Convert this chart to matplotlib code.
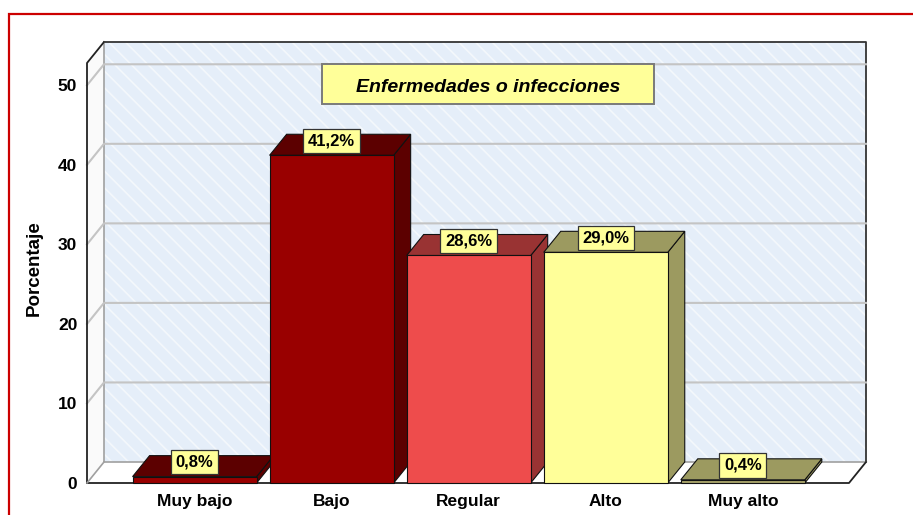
import matplotlib.pyplot as plt
from matplotlib.patches import Polygon, Rectangle

# data
categorias = ['Muy bajo', 'Bajo', 'Regular', 'Alto', 'Muy alto']
porcentajes = [0.8, 41.2, 28.6, 29.0, 0.4]
etiquetas = ['0,8%', '41,2%', '28,6%', '29,0%', '0,4%']
titulo = 'Enfermedades o infecciones'
y_ticks = [0, 10, 20, 30, 40, 50]

# colours of each bar: front, top/side
col_frente = ['#990000', '#990000', '#ee4c4c', '#ffff99', '#a8a46a']
col_lado = ['#5c0000', '#5c0000', '#993333', '#9c9a60', '#9c9a60']

plt.rcParams['font.family'] = ['Liberation Sans', 'DejaVu Sans']
plt.rcParams['hatch.linewidth'] = 1.2

W, H = 913, 515
fig = plt.figure(figsize=(W / 100, H / 100), dpi=100)
fig.patch.set_facecolor('white')

# red frame round the chart
fig.patches.append(Rectangle((9 / W, -0.2), 2, 1.2 - 14 / H, transform=fig.transFigure,
                             facecolor='none', edgecolor='#cc0000', lw=1.6, zorder=0))

# axes = front plane of the 3d box
x0, x1 = -0.785, 4.775
ytop = 52.8
ax = fig.add_axes([87 / W, (H - 483) / H, (849 - 87) / W, (483 - 63) / H])
ax.set_xlim(x0, x1)
ax.set_ylim(0, ytop)
ax.set_facecolor('none')
for s in ax.spines.values():
    s.set_visible(False)

# depth offset (category units, value units)
ddx = 0.124
ddy = 2.64
ancho = 0.905

# back wall
pared = Rectangle((x0 + ddx, ddy), x1 - x0, ytop, facecolor='#e5eef9', edgecolor='#f4f8fc',
                  hatch='\\\\', lw=0, clip_on=False, zorder=1)
ax.add_patch(pared)
ax.plot([x0 + ddx, x1 + ddx, x1 + ddx], [ytop + ddy, ytop + ddy, ddy], color='#333333',
        lw=1.3, clip_on=False, zorder=2)

# left wall
ax.add_patch(Polygon([(x0, 0), (x0, ytop), (x0 + ddx, ytop + ddy), (x0 + ddx, ddy)],
                     closed=True, facecolor='#fafafa', edgecolor='none', clip_on=False, zorder=1))
ax.plot([x0 + ddx, x0 + ddx], [ddy, ytop + ddy], color='#a0a0a0', lw=1.2, clip_on=False, zorder=2)

# grid lines
for v in y_ticks[1:]:
    ax.plot([x0, x0 + ddx, x1 + ddx], [v, v + ddy, v + ddy], color='#c4c4c4', lw=1.5,
            clip_on=False, zorder=2)

# floor
ax.add_patch(Polygon([(x0, 0), (x1, 0), (x1 + ddx, ddy), (x0 + ddx, ddy)], closed=True,
                     facecolor='white', edgecolor='none', clip_on=False, zorder=2))
ax.plot([x0 + ddx, x1 + ddx], [ddy, ddy], color='#a0a0a0', lw=1.2, clip_on=False, zorder=2)
ax.plot([x0, x1, x1 + ddx], [0, 0, ddy], color='#222222', lw=1.3, clip_on=False, zorder=2)
ax.plot([x0, x0, x0 + ddx], [0, ytop, ytop + ddy], color='#222222', lw=1.3, clip_on=False, zorder=2)
ax.plot([x0, x0 + ddx], [0, ddy], color='#a0a0a0', lw=1.2, clip_on=False, zorder=2)

# bars
for i, v in enumerate(porcentajes):
    a = i - ancho / 2
    b = i + ancho / 2
    lado = Polygon([(b, 0), (b + ddx, ddy), (b + ddx, v + ddy), (b, v)], closed=True,
                   facecolor=col_lado[i], edgecolor='#111111', lw=0.8, clip_on=False, zorder=3)
    tapa = Polygon([(a, v), (b, v), (b + ddx, v + ddy), (a + ddx, v + ddy)], closed=True,
                   facecolor=col_lado[i], edgecolor='#111111', lw=0.8, clip_on=False, zorder=3)
    frente = Rectangle((a, 0), ancho, v, facecolor=col_frente[i], edgecolor='#111111', lw=0.8,
                       clip_on=False, zorder=3)
    ax.add_patch(lado)
    ax.add_patch(tapa)
    ax.add_patch(frente)
    ax.text(i, v + 1.8, etiquetas[i], ha='center', va='center', fontsize=12,
            fontweight='bold', zorder=5,
            bbox=dict(boxstyle='square,pad=0.28', facecolor='#ffff99', edgecolor='#333333', lw=0.9))

# ticks
ax.set_xticks(range(len(categorias)))
ax.set_xticklabels(categorias, fontsize=12.5, fontweight='bold')
ax.set_yticks(y_ticks)
ax.set_yticklabels([str(t) for t in y_ticks], fontsize=12.5, fontweight='bold')
ax.tick_params(axis='x', length=0, pad=8)
ax.tick_params(axis='y', length=0, pad=7)

fig.text(34 / W, 1 - 268 / H, 'Porcentaje', rotation=90, ha='center', va='center',
         fontsize=13.5, fontweight='bold')

# title box
fig.patches.append(Rectangle((322 / W, 1 - 104 / H), (654 - 322) / W, 40 / H,
                             transform=fig.transFigure, facecolor='#ffff99',
                             edgecolor='#7a7a7a', lw=1.4, zorder=6))
fig.text(488 / W, 1 - 87 / H, titulo, ha='center', va='center', fontsize=14,
         fontweight='bold', fontstyle='italic', zorder=7)

fig.savefig('out.png', dpi=100)
